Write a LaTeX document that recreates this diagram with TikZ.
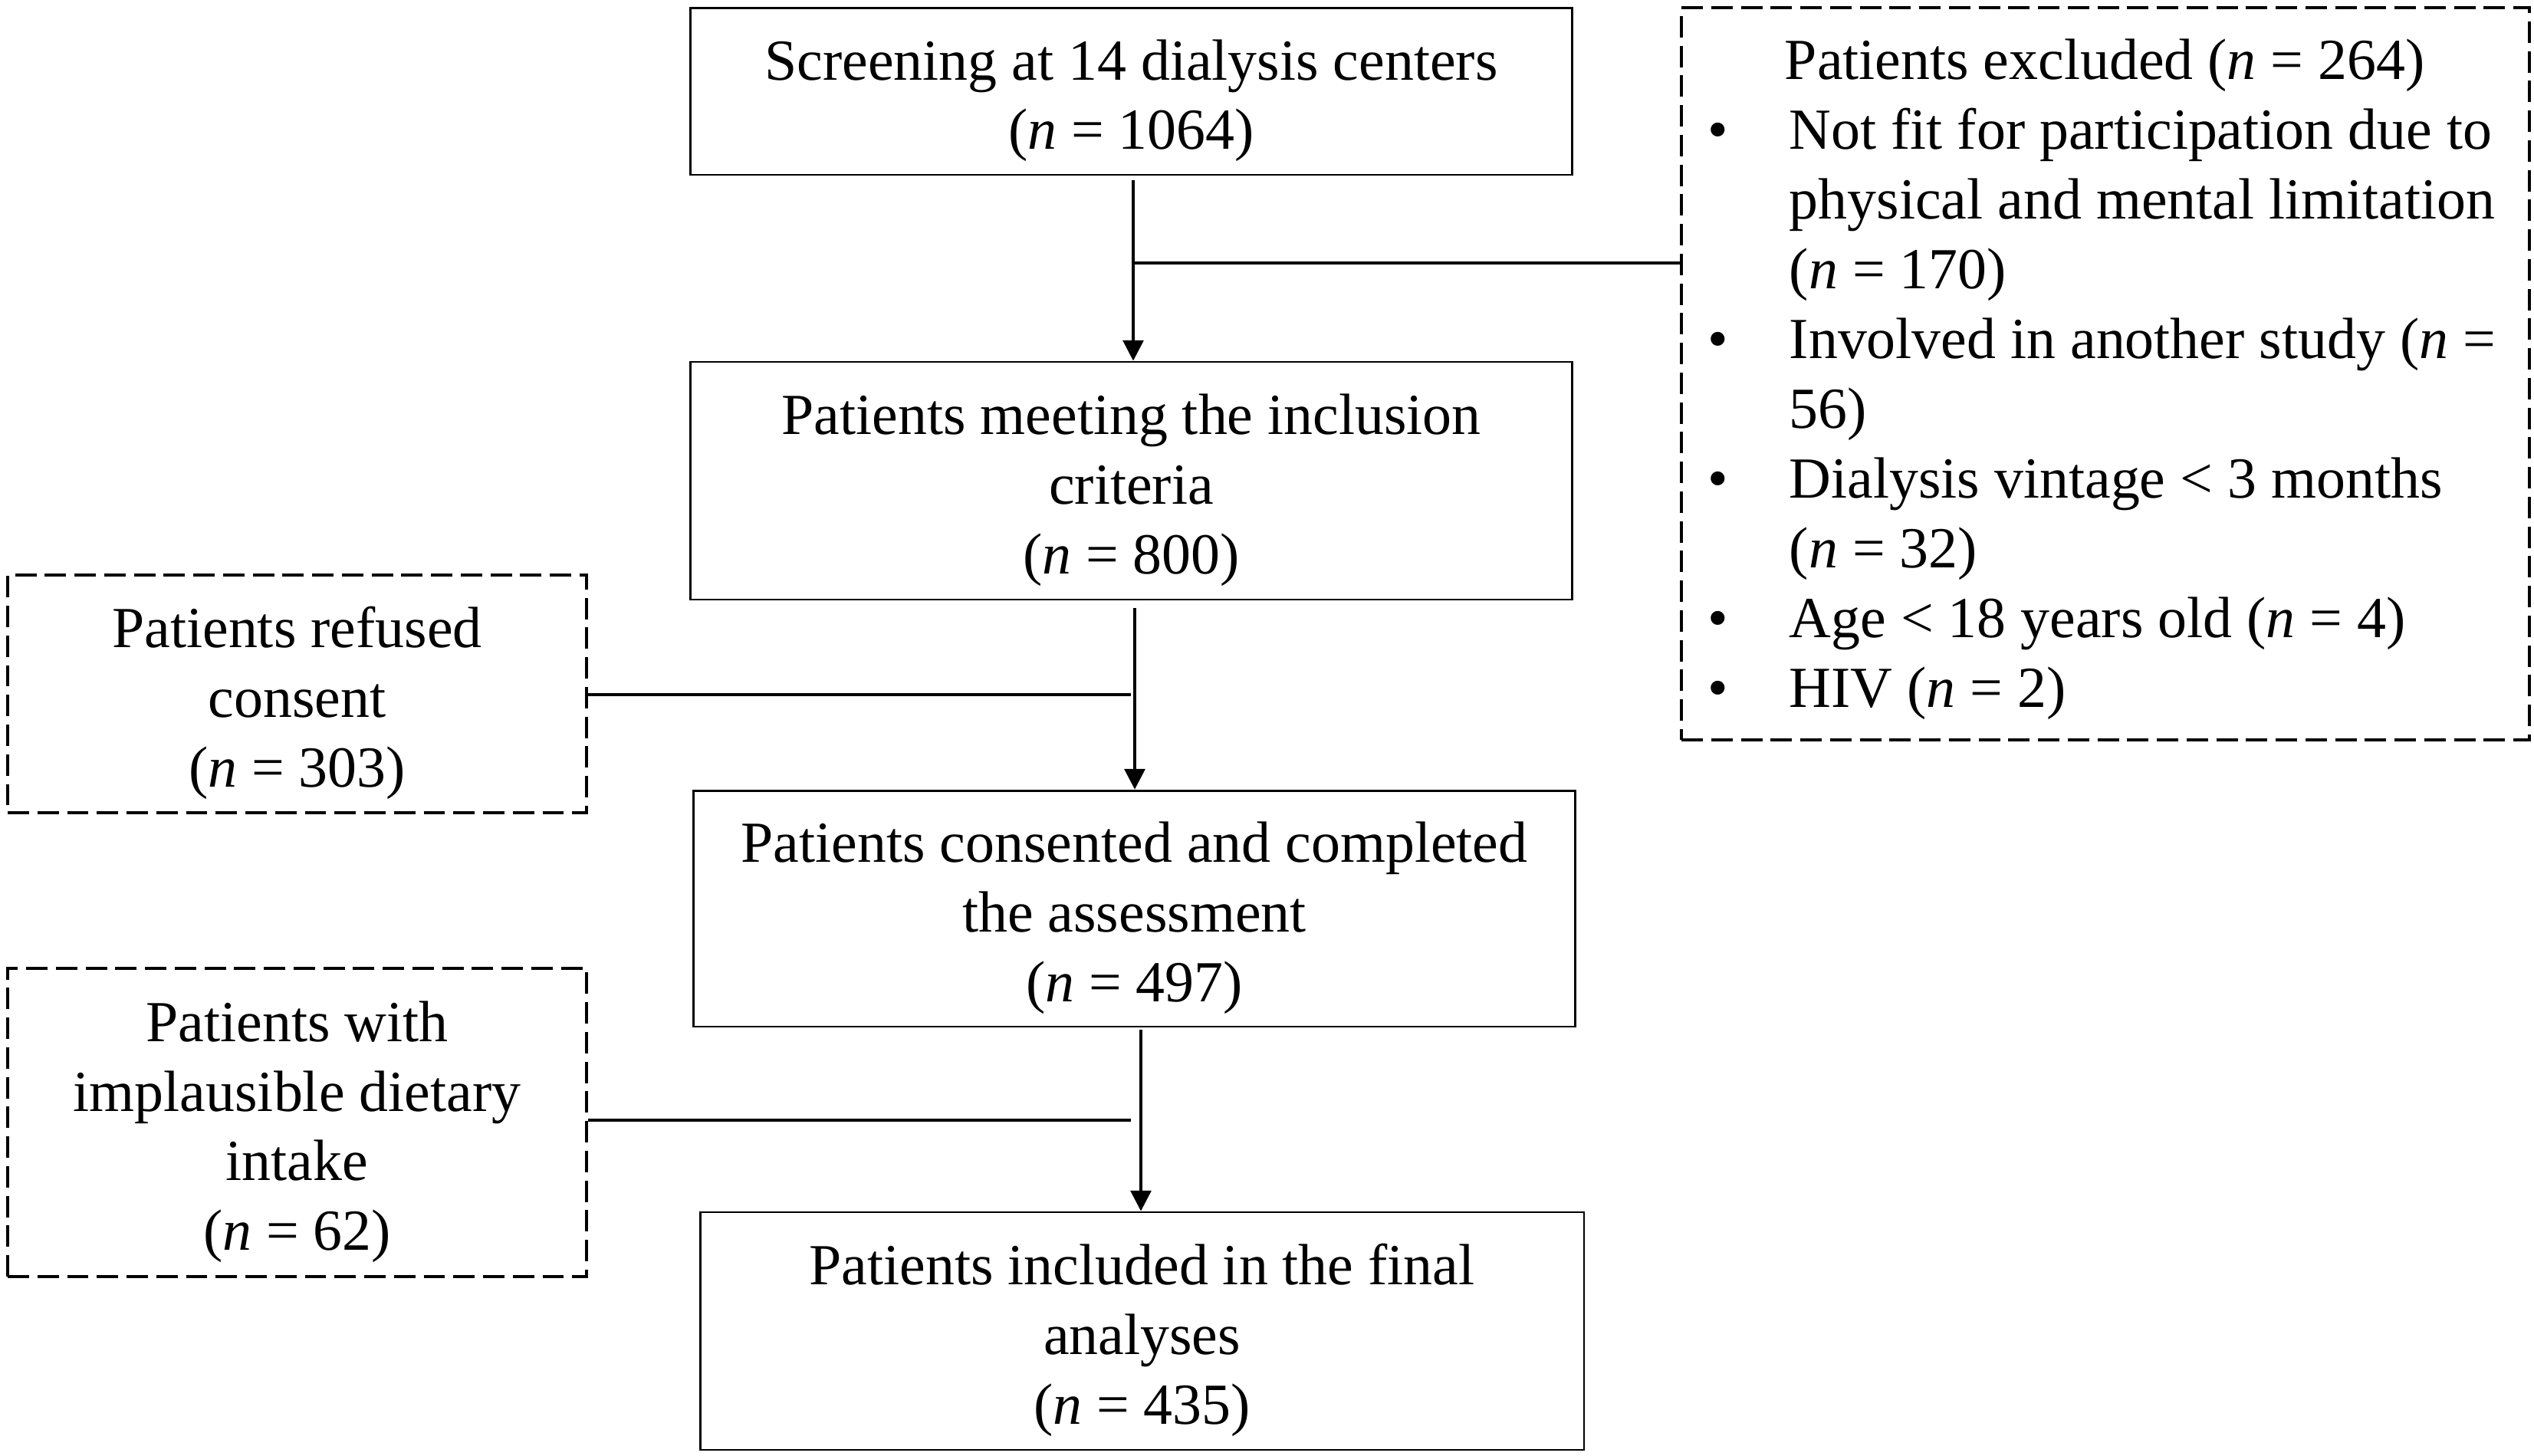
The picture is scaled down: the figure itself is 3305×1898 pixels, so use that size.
\documentclass[tikz,border=0pt]{standalone}
\usepackage{fontspec}
\setmainfont{Liberation Serif}
\usetikzlibrary{arrows.meta}
\newcommand\tstrut{\rule{0pt}{18.5pt}}
\begin{document}
\begin{tikzpicture}[x=0.24pt,y=-0.24pt,
  txt/.style={font=\fontsize{18.2}{21.8}\selectfont, inner sep=0pt},
  solidbox/.style={txt, draw, line width=0.7pt, align=center},
  dashbox/.style={txt, draw, line width=0.8pt, dash pattern=on 6.7pt off 2.6pt, align=center},
  conn/.style={line width=0.95pt},
  arr/.style={conn, -{Triangle[length=6.4pt,width=6.4pt]}}]
\useasboundingbox (0,0) rectangle (3305,1898);
% main boxes
\node[solidbox, minimum width=276.2pt, minimum height=52.3pt] (screen) at (1475.5,119)
  {\tstrut Screening at 14 dialysis centers\\(\textit{n} = 1064)};
\node[solidbox, minimum width=276.2pt, minimum height=74.4pt] (incl) at (1475.5,627)
  {\tstrut Patients meeting the inclusion\\criteria\\(\textit{n} = 800)};
\node[solidbox, minimum width=276.2pt, minimum height=73.9pt] (cons) at (1479.5,1185)
  {\tstrut Patients consented and completed\\the assessment\\(\textit{n} = 497)};
\node[solidbox, minimum width=276.7pt, minimum height=74.4pt] (final) at (1489.5,1736)
  {\tstrut Patients included in the final\\analyses\\(\textit{n} = 435)};
% side boxes
\node[dashbox, minimum width=181.2pt, minimum height=74.4pt] (refused) at (387.5,905)
  {\tstrut Patients refused\\consent\\(\textit{n} = 303)};
\node[dashbox, minimum width=181.2pt, minimum height=96.5pt] (impl) at (387.5,1464)
  {\tstrut Patients with\\implausible dietary\\intake\\(\textit{n} = 62)};
\node[dashbox, minimum width=265.4pt, minimum height=229.2pt] (excl) at (2746,487.5) {};
% exclusion list
\node[txt, anchor=base west] (e0) at (2327,103) {Patients excluded (\textit{n} = 264)};
\node[txt, anchor=base west] (b1) at (2227,194) {•};
\node[txt, anchor=base west] (e1) at (2333,194) {Not fit for participation due to};
\node[txt, anchor=base west] (e2) at (2333,285) {physical and mental limitation};
\node[txt, anchor=base west] (e3) at (2333,376) {(\textit{n} = 170)};
\node[txt, anchor=base west] (b2) at (2227,467) {•};
\node[txt, anchor=base west] (e4) at (2333,467) {Involved in another study (\textit{n} =};
\node[txt, anchor=base west] (e5) at (2333,558) {56)};
\node[txt, anchor=base west] (b3) at (2227,649) {•};
\node[txt, anchor=base west] (e6) at (2333,649) {Dialysis vintage < 3 months};
\node[txt, anchor=base west] (e7) at (2333,740) {(\textit{n} = 32)};
\node[txt, anchor=base west] (b4) at (2227,831) {•};
\node[txt, anchor=base west] (e8) at (2333,831) {Age < 18 years old (\textit{n} = 4)};
\node[txt, anchor=base west] (b5) at (2227,922) {•};
\node[txt, anchor=base west] (e9) at (2333,922) {HIV (\textit{n} = 2)};
% connectors
\coordinate (s1) at (1478,235);
\coordinate (j1) at (1478,343);
\draw[arr] (s1) -- (s1 |- incl.north);
\draw[conn] (j1) -- (j1 -| excl.west);
\coordinate (s2) at (1480,793);
\coordinate (j2) at (1475,906);
\draw[arr] (s2) -- (s2 |- cons.north);
\draw[conn] (refused.east |- j2) -- (j2);
\coordinate (s3) at (1488,1343);
\coordinate (j3) at (1475,1461);
\draw[arr] (s3) -- (s3 |- final.north);
\draw[conn] (impl.east |- j3) -- (j3);
\end{tikzpicture}
\end{document}
